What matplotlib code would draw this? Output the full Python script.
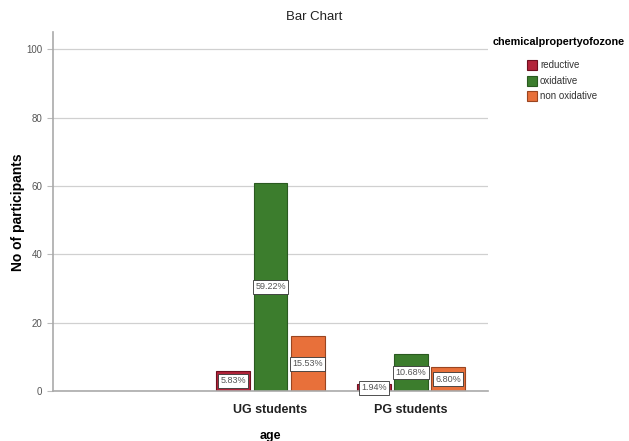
import numpy as np
import matplotlib
matplotlib.use("Agg")
import matplotlib.pyplot as plt
from matplotlib.patches import Rectangle

plt.rcParams['font.family'] = ['Liberation Sans', 'DejaVu Sans']

categories = ["", "UG students", "PG students"]
series = ["reductive", "oxidative", "non oxidative"]
counts = {
    "reductive": [0, 6, 2],
    "oxidative": [0, 61, 11],
    "non oxidative": [0, 16, 7],
}
pct_labels = {
    "reductive": [None, "5.83%", "1.94%"],
    "oxidative": [None, "59.22%", "10.68%"],
    "non oxidative": [None, "15.53%", "6.80%"],
}
colors = {"reductive": "#b3243a", "oxidative": "#3c7d2d", "non oxidative": "#e8703a"}
edges = {"reductive": "#6e1020", "oxidative": "#2a5a20", "non oxidative": "#9a4520"}

fig = plt.figure(figsize=(6.29, 4.41), dpi=100)
ax = fig.add_axes([0.084, 0.113, 0.692, 0.814])

x = np.arange(len(categories))
width = 0.24
offsets = [-0.265, 0.0, 0.265]

ax.yaxis.grid(True, color="#d0d0d0", linewidth=0.9)
ax.set_axisbelow(True)

for s, off in zip(series, offsets):
    vals = counts[s]
    for xi, v, lab in zip(x, vals, pct_labels[s]):
        if lab is None:
            continue
        ax.bar(xi + off, v, width, color=colors[s], edgecolor=edges[s], linewidth=0.8)
        ax.text(xi + off, v / 2, lab, ha="center", va="center", fontsize=6.5, color="#555555",
                bbox=dict(boxstyle="square,pad=0.25", facecolor="white", edgecolor="#333333", linewidth=0.6))

ax.set_xlim(-0.55, 2.55)
ax.set_ylim(0, 105)
ax.set_yticks([0, 20, 40, 60, 80, 100])
ax.tick_params(axis="y", labelsize=7, labelcolor="#555555", color="#bbbbbb", length=4, width=0.8)
ax.set_xticks(x[1:])
ax.set_xticklabels(categories[1:], fontsize=9, fontweight="bold", color="#222222")
ax.tick_params(axis="x", length=0, pad=9)

for side in ["top", "right"]:
    ax.spines[side].set_visible(False)
for side in ["left", "bottom"]:
    ax.spines[side].set_color("#aaaaaa")
    ax.spines[side].set_linewidth(1.2)

ax.set_xlabel("age", fontsize=9, fontweight="bold", labelpad=10)
fig.text(18 / 629, 1 - 212 / 441, "No of participants", rotation=90, ha="center", va="center",
         fontsize=10, fontweight="bold")
fig.text(0.5, 1 - 17 / 441, "Bar Chart", ha="center", va="center", fontsize=9.5, color="#222222")

# legend, SPSS style
fig.text(493 / 629, 1 - 42 / 441, "chemicalpropertyofozone", ha="left", va="center",
         fontsize=7.8, fontweight="bold")
for i, s in enumerate(series):
    yc = 65 + 15.5 * i
    fig.add_artist(Rectangle((527 / 629, 1 - (yc + 5) / 441), 10 / 629, 10 / 441,
                             transform=fig.transFigure, facecolor=colors[s], edgecolor=edges[s],
                             linewidth=0.8))
    fig.text(540 / 629, 1 - yc / 441, s, ha="left", va="center", fontsize=7, color="#333333")

fig.savefig("out.png", dpi=100)
